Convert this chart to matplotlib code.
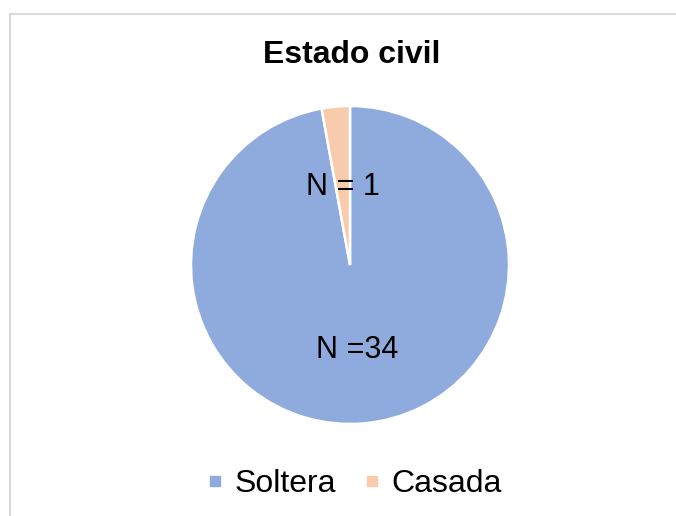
import matplotlib
matplotlib.use("Agg")
import matplotlib.pyplot as plt
from matplotlib.lines import Line2D

# datos
categorias = ["Soltera", "Casada"]
valores = [34, 1]
etiquetas = ["N =34", "N = 1"]
colores = ["#8FAADC", "#F8CBAD"]

plt.rcParams['font.family'] = ['Liberation Sans', 'DejaVu Sans']

W, H = 676, 516
fig = plt.figure(figsize=(W / 100, H / 100), dpi=100)

# marco gris del grafico
fig.add_artist(Line2D([10 / W, 1], [1 - 13.5 / H] * 2, color="#D9D9D9", lw=1.5))
fig.add_artist(Line2D([10 / W] * 2, [0, 1 - 13.5 / H], color="#D9D9D9", lw=1.5))

cx, cy, r = 350, 265, 159
ax = fig.add_axes([(cx - r) / W, (H - cy - r) / H, 2 * r / W, 2 * r / H])
wedges, texts = ax.pie(valores, labels=etiquetas, colors=colores, startangle=90,
                       counterclock=False, labeldistance=0.51,
                       wedgeprops=dict(edgecolor="white", linewidth=1.8),
                       textprops=dict(fontsize=22, color="black"))
# excel coloca las etiquetas un poco distinto
for t, k in zip(texts, [1.05, 0.96]):
    x, y = t.get_position()
    t.set_position((x * k, y * k))
    t.set_ha("center")
    t.set_va("center")
ax.set_xlim(-1, 1)
ax.set_ylim(-1, 1)
ax.set_aspect("equal")
ax.axis("off")

fig.text(351.5 / W, 1 - 55 / H, "Estado civil", ha="center", va="center",
         fontsize=23, fontweight="bold")

handles = [Line2D([], [], ls="none", marker="s", markersize=6.5, color=c) for c in colores]
fig.legend(handles, categorias, loc="center", bbox_to_anchor=(356 / W, 1 - 484 / H),
           ncol=2, frameon=False, fontsize=23, handlelength=0.3,
           handletextpad=0.45, columnspacing=1.0)

fig.savefig("out.png", dpi=100)
